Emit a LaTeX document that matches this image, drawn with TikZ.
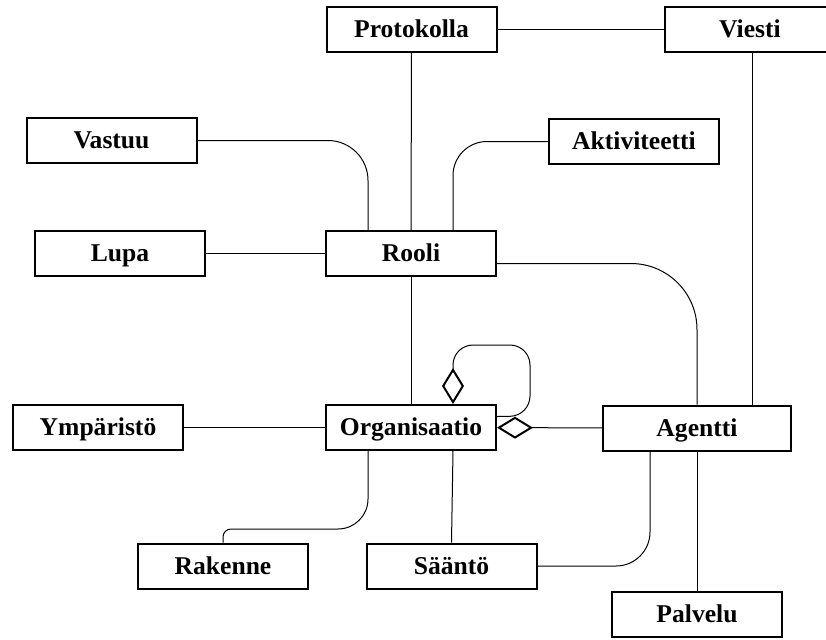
\documentclass[tikz,border=0pt]{standalone}
\usepackage{fontspec}
\setmainfont{Liberation Serif}
\usetikzlibrary{arrows.meta}

\begin{document}
\begin{tikzpicture}[x=0.5pt, y=-0.5pt,
    box/.style={draw, line width=1pt, minimum width=85pt, minimum height=22.5pt,
        inner sep=0pt, text height=8.4pt, text depth=0pt,
        font=\bfseries\fontsize{12.8}{15}\selectfont},
    link/.style={line width=0.5pt},
    agg/.style={{Diamond[open,length=18pt,width=11pt,line width=1pt]}-}]
    \useasboundingbox (0,0) rectangle (826,639);
    \node[box] (protokolla) at (411.5,29.5) {Protokolla};
    \node[box] (viesti) at (750,29.5) {Viesti};
    \node[box] (vastuu) at (111.5,140.5) {Vastuu};
    \node[box] (aktiviteetti) at (634,141.5) {Aktiviteetti};
    \node[box] (lupa) at (120,253.5) {Lupa};
    \node[box] (rooli) at (411,253.5) {Rooli};
    \node[box] (ymparisto) at (98,427.5) {Ympäristö};
    \node[box] (organisaatio) at (411,427.5) {Organisaatio};
    \node[box, minimum width=94pt] (agentti) at (697,428) {Agentti};
    \node[box] (rakenne) at (223,566) {Rakenne};
    \node[box] (saanto) at (451.5,566) {Sääntö};
    \node[box] (palvelu) at (697,614.5) {Palvelu};
    % links
    \draw[link] (protokolla) -- (viesti);
    \draw[link] (protokolla) -- (rooli);
    \draw[link] (rooli) -- (organisaatio);
    \draw[link] ([xshift=1pt]viesti.south) -- ([xshift=1pt]viesti.south |- agentti.north);
    \draw[link, rounded corners=20pt] (vastuu) -| ([xshift=-21.5pt]rooli.north);
    \draw[link, rounded corners=17pt] (aktiviteetti) -| ([xshift=21pt]rooli.north);
    \draw[link] (lupa) -- (rooli);
    \draw[link, rounded corners=33pt] ([yshift=-5pt]rooli.east) -| (agentti.north);
    \draw[link] (ymparisto) -- (organisaatio);
    \draw[link, agg] (organisaatio) -- (agentti);
    \draw[link, agg, rounded corners=10pt] ([xshift=21pt]organisaatio.north) -- ++(0,-59) -- ++(77,0)
        -- ++(0,71) -- ([yshift=5.5pt]organisaatio.east);
    \draw[link, rounded corners=15pt] ([xshift=-21.5pt]organisaatio.south) -- ++(0,78)
        [rounded corners=4pt] -| (rakenne.north);
    \draw[link] ([xshift=21pt]organisaatio.south) -- (saanto.north);
    \draw[link, rounded corners=17pt] ([xshift=-23.5pt]agentti.south) |- (saanto.east);
    \draw[link] (agentti) -- (palvelu);
\end{tikzpicture}
\end{document}
